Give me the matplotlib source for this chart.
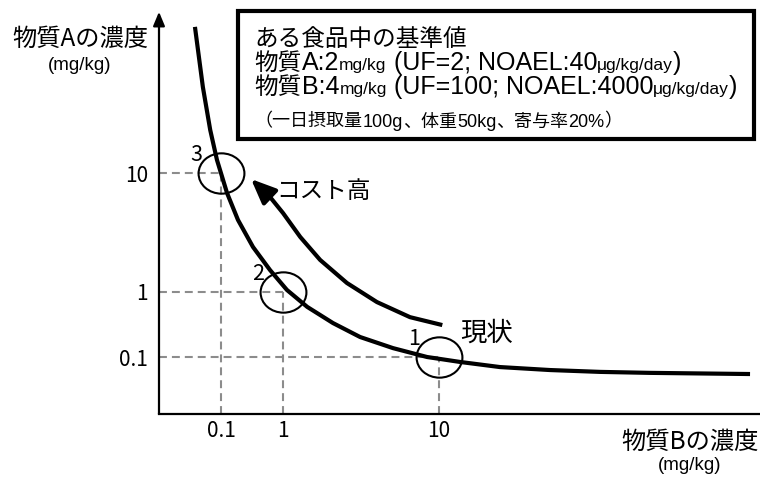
import numpy as np
import matplotlib
matplotlib.use("Agg")
import matplotlib.pyplot as plt
from matplotlib.scale import FuncScale
from matplotlib.path import Path
from matplotlib.transforms import Affine2D
from matplotlib.offsetbox import TextArea, HPacker, VPacker, AnchoredOffsetbox, DrawingArea

JP = ["Noto Sans CJK JP", "DejaVu Sans"]
LATIN = ["Liberation Sans", "Noto Sans CJK JP"]

# data (concentrations in mg/kg)
tick_values = [0.1, 1, 10]
tick_labels = ["0.1", "1", "10"]

point_b = [10, 1, 0.1]
point_a = [0.1, 1, 10]
point_names = ["1", "2", "3"]

curve_b = [0.038, 0.051, 0.067, 0.086, 0.125, 0.188, 0.328, 0.617, 1.06, 1.43,
           2.09, 3.12, 5.07, 8.38, 13.6, 24.6, 51.5, 108, 225, 986]
curve_a = [169, 52.8, 23.0, 12.9, 6.8, 4.03, 2.39, 1.53, 1.04, 0.59,
           0.333, 0.203, 0.137, 0.1, 0.084, 0.070, 0.063, 0.059, 0.057, 0.0547]

cost_b = [10.5, 6.52, 4.0, 2.57, 1.73, 1.29, 1.0, 0.617, 0.305]
cost_a = [0.31, 0.41, 0.70, 1.19, 1.86, 2.90, 4.61, 6.29, 8.9]


# schematic axes: uneven spacing per decade, like the drawing
def make_scale(logs, pos):
    def fwd(v):
        v = np.clip(np.asarray(v, dtype=float), 1e-12, None)
        return np.interp(np.log10(v), logs, pos)

    def inv(p):
        return 10 ** np.interp(np.asarray(p, dtype=float), pos, logs)
    return fwd, inv


xf, xi = make_scale([-3, -2, -1, 0, 1, 4], [-62, 0, 62, 124, 280, 748])
yf, yi = make_scale([-3, -1, 0, 1, 4], [-73, 57, 122, 241, 598])

fig = plt.figure(figsize=(7.6, 4.78), dpi=100)
ax = fig.add_axes([159 / 760, 64 / 478, 601 / 760, 399 / 478])
ax.set_xscale(FuncScale(ax, (xf, xi)))
ax.set_yscale(FuncScale(ax, (yf, yi)))
ax.set_xlim(xi(0), xi(601))
ax.set_ylim(yi(0), yi(399))

for s in ["top", "right", "left"]:
    ax.spines[s].set_visible(False)
ax.spines["bottom"].set_linewidth(1.6)

ax.set_xticks(tick_values, tick_labels, family=JP, fontsize=15)
ax.set_yticks(tick_values, tick_labels, family=JP, fontsize=15)
ax.minorticks_off()
ax.tick_params(axis="x", length=0, pad=4)
ax.tick_params(axis="y", length=0, pad=8)

# y axis with arrow head
ax.annotate("", xy=(0, 1.008), xycoords="axes fraction", xytext=(0, 0),
            textcoords="axes fraction", annotation_clip=False,
            arrowprops=dict(arrowstyle="-|>,head_length=0.6,head_width=0.25",
                            lw=1.6, color="black", shrinkA=0, shrinkB=0,
                            mutation_scale=14))

# dashed guide lines
x0 = ax.get_xlim()[0]
y0 = ax.get_ylim()[0]
for b, a in zip(point_b, point_a):
    ax.plot([x0, b], [a, a], color="#8c8c8c", lw=1.5, dashes=(3.8, 2.4), zorder=1)
    ax.plot([b, b], [y0, a], color="#8c8c8c", lw=1.5, dashes=(3.8, 2.4), zorder=1)

# main curve
ax.plot(curve_b, curve_a, color="black", lw=3, solid_capstyle="butt",
        solid_joinstyle="round", zorder=3)

# circles (slightly flattened) and numbers
ellipse = Path.unit_circle().transformed(Affine2D().scale(1.0, 0.88))
ax.plot(point_b, point_a, linestyle="none", marker=ellipse, ms=33, mfc="none",
        mec="black", mew=1.5, zorder=4)
for b, a, n in zip(point_b, point_a, point_names):
    ax.annotate(n, (b, a), xytext=(-18, 13), textcoords="offset points",
                ha="center", va="center", fontsize=15.5, family=JP)

# cost arrow
ax.plot(cost_b[:-1], cost_a[:-1], color="black", lw=3, solid_capstyle="butt",
        solid_joinstyle="round", zorder=3)
ax.annotate("", xy=(cost_b[-1], cost_a[-1]), xytext=(cost_b[-2], cost_a[-2]),
            arrowprops=dict(arrowstyle="-|>,head_length=0.75,head_width=0.32",
                            lw=3, color="black", shrinkA=0, shrinkB=0,
                            mutation_scale=20))
ax.annotate("コスト高", (cost_b[-1], cost_a[-1]), xytext=(18, -9),
            textcoords="offset points", ha="left", va="center",
            fontsize=17, family=JP)
ax.annotate("現状", (cost_b[0], cost_a[0]), xytext=(13, -6),
            textcoords="offset points", ha="left", va="center",
            fontsize=19, family=JP)

# axis titles
fig.text(80 / 760, 1 - 39 / 478, "物質Aの濃度", ha="center", va="center",
         fontsize=17.5, family=JP)
fig.text(80 / 760, 1 - 66 / 478, "(mg/kg)", ha="center", va="center",
         fontsize=13.5, family=LATIN)
fig.text(690 / 760, 1 - 442 / 478, "物質Bの濃度", ha="center", va="center",
         fontsize=17.5, family=JP)
fig.text(690 / 760, 1 - 466 / 478, "(mg/kg)", ha="center", va="center",
         fontsize=13.5, family=LATIN)


# reference value box
def piece(s, size, fam):
    return TextArea(s, textprops=dict(fontsize=size, family=fam))


def row(parts):
    return HPacker(children=[piece(*p) for p in parts], align="baseline", pad=0, sep=0)


rows = [
    DrawingArea(1, 12),
    row([("ある食品中の基準値", 17, JP)]),
    row([("物質", 17, JP), ("A:2", 18, LATIN), ("mg/kg", 12.5, LATIN),
         (" (UF=2; NOAEL:40", 18, LATIN), ("μg/kg/day", 12.5, LATIN), (")", 18, LATIN)]),
    row([("物質", 17, JP), ("B:4", 18, LATIN), ("mg/kg", 12.5, LATIN),
         (" (UF=100; NOAEL:4000", 18, LATIN), ("μg/kg/day", 12.5, LATIN), (")", 18, LATIN)]),
    DrawingArea(1, 10),
    row([("（一日摂取量", 13, JP), ("100g", 13, LATIN), ("、体重", 13, JP),
         ("50kg", 13, LATIN), ("、寄与率", 13, JP), ("20%", 13, LATIN), ("）", 13, JP)]),
    DrawingArea(1, 6),
]
column = VPacker(children=rows, align="left", pad=0, sep=0)
box = HPacker(children=[DrawingArea(12, 1), column, DrawingArea(12, 1)],
              align="top", pad=0, sep=0)
anchored = AnchoredOffsetbox(loc="upper left", child=box, pad=0, borderpad=0,
                             frameon=True, prop=dict(size=10),
                             bbox_to_anchor=(238 / 760, 1 - 11 / 478),
                             bbox_transform=fig.transFigure)
anchored.patch.set_linewidth(3)
anchored.patch.set_edgecolor("black")
anchored.patch.set_boxstyle("square", pad=0)
fig.add_artist(anchored)

fig.savefig("out.png", dpi=100)
